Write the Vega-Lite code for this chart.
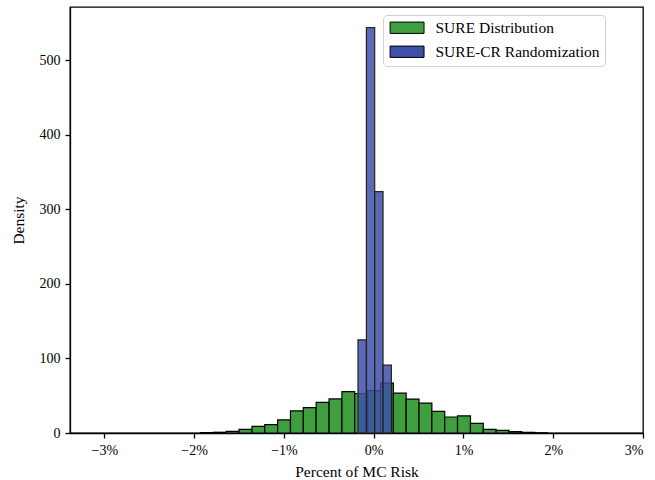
{
  "$schema": "https://vega.github.io/schema/vega-lite/v6.json",
  "width": 573,
  "height": 426,
  "autosize": {"type": "none"},
  "padding": {"left": 70, "top": 7, "right": 12, "bottom": 47},
  "background": "white",
  "config": {
    "font": "Liberation Serif",
    "view": {"stroke": "black", "strokeWidth": 1.3},
    "axis": {
      "grid": false,
      "domainColor": "black",
      "domainWidth": 1.3,
      "tickColor": "black",
      "tickWidth": 1.3,
      "tickSize": 5,
      "labelFont": "Liberation Serif",
      "labelFontSize": 14,
      "labelColor": "black",
      "titleFont": "Liberation Serif",
      "titleFontSize": 15.5,
      "titleFontWeight": "normal",
      "titleColor": "black"
    }
  },
  "data": {
    "values": [
      {"series": "SURE Distribution", "x0": -1.929, "x1": -1.786, "density": 0.5},
      {"series": "SURE Distribution", "x0": -1.786, "x1": -1.643, "density": 1.0},
      {"series": "SURE Distribution", "x0": -1.643, "x1": -1.5, "density": 2.2},
      {"series": "SURE Distribution", "x0": -1.5, "x1": -1.356, "density": 4.9},
      {"series": "SURE Distribution", "x0": -1.356, "x1": -1.213, "density": 9.0},
      {"series": "SURE Distribution", "x0": -1.213, "x1": -1.07, "density": 11.2},
      {"series": "SURE Distribution", "x0": -1.07, "x1": -0.927, "density": 17.7},
      {"series": "SURE Distribution", "x0": -0.927, "x1": -0.784, "density": 29.6},
      {"series": "SURE Distribution", "x0": -0.784, "x1": -0.641, "density": 34.0},
      {"series": "SURE Distribution", "x0": -0.641, "x1": -0.497, "density": 41.2},
      {"series": "SURE Distribution", "x0": -0.497, "x1": -0.354, "density": 45.7},
      {"series": "SURE Distribution", "x0": -0.354, "x1": -0.211, "density": 55.5},
      {"series": "SURE Distribution", "x0": -0.211, "x1": -0.068, "density": 53.0},
      {"series": "SURE Distribution", "x0": -0.068, "x1": 0.075, "density": 57.0},
      {"series": "SURE Distribution", "x0": 0.075, "x1": 0.219, "density": 67.0},
      {"series": "SURE Distribution", "x0": 0.219, "x1": 0.362, "density": 53.5},
      {"series": "SURE Distribution", "x0": 0.362, "x1": 0.505, "density": 45.5},
      {"series": "SURE Distribution", "x0": 0.505, "x1": 0.648, "density": 40.0},
      {"series": "SURE Distribution", "x0": 0.648, "x1": 0.791, "density": 29.0},
      {"series": "SURE Distribution", "x0": 0.791, "x1": 0.934, "density": 21.5},
      {"series": "SURE Distribution", "x0": 0.934, "x1": 1.078, "density": 23.0},
      {"series": "SURE Distribution", "x0": 1.078, "x1": 1.221, "density": 13.0},
      {"series": "SURE Distribution", "x0": 1.221, "x1": 1.364, "density": 4.9},
      {"series": "SURE Distribution", "x0": 1.364, "x1": 1.507, "density": 3.6},
      {"series": "SURE Distribution", "x0": 1.507, "x1": 1.65, "density": 1.8},
      {"series": "SURE Distribution", "x0": 1.65, "x1": 1.793, "density": 0.9},
      {"series": "SURE Distribution", "x0": 1.793, "x1": 1.936, "density": 0.3},
      {"series": "SURE-CR Randomization", "x0": -0.175, "x1": -0.081, "density": 125},
      {"series": "SURE-CR Randomization", "x0": -0.081, "x1": 0.011, "density": 544},
      {"series": "SURE-CR Randomization", "x0": 0.011, "x1": 0.104, "density": 324},
      {"series": "SURE-CR Randomization", "x0": 0.104, "x1": 0.197, "density": 91}
    ]
  },
  "encoding": {
    "x": {
      "field": "x0",
      "type": "quantitative",
      "scale": {"domain": [-3.383, 3.0], "nice": false, "zero": false},
      "axis": {
        "values": [-3, -2, -1, 0, 1, 2, 3],
        "labelExpr": "datum.value < 0 ? '\u2212' + abs(datum.value) + '%' : datum.value + '%'",
        "title": "Percent of MC Risk",
        "titlePadding": 7,
        "labelPadding": 5
      }
    },
    "x2": {"field": "x1"},
    "y": {
      "field": "density",
      "type": "quantitative",
      "scale": {"domain": [0, 571.8], "nice": false},
      "axis": {
        "values": [0, 100, 200, 300, 400, 500],
        "title": "Density",
        "titlePadding": 13,
        "labelPadding": 5
      }
    },
    "y2": {"datum": 0},
    "color": {
      "field": "series",
      "type": "nominal",
      "scale": {
        "domain": ["SURE Distribution", "SURE-CR Randomization"],
        "range": ["#3f9f3f", "#3e50a8"]
      },
      "legend": {
        "title": null,
        "orient": "none",
        "legendX": 313,
        "legendY": 8,
        "padding": 5,
        "strokeColor": "#d0d0d0",
        "fillColor": "white",
        "cornerRadius": 4,
        "labelFont": "Liberation Serif",
        "labelFontSize": 15.5,
        "labelColor": "black",
        "labelLimit": 400,
        "labelExpr": "datum.label + '\u2003\u2003'",
        "symbolType": "M-1,-1H5V1H-1Z",
        "symbolSize": 128,
        "symbolStrokeColor": "black",
        "symbolStrokeWidth": 1,
        "symbolOpacity": 1,
        "labelOffset": 32,
        "rowPadding": 7
      }
    }
  },
  "layer": [
    {
      "transform": [{"filter": "datum.series === 'SURE Distribution'"}],
      "mark": {"type": "bar", "stroke": "black", "strokeWidth": 1.2, "opacity": 1}
    },
    {
      "transform": [{"filter": "datum.series === 'SURE-CR Randomization'"}],
      "mark": {"type": "bar", "stroke": "#222222", "strokeWidth": 1.2, "fillOpacity": 0.85}
    }
  ]
}
